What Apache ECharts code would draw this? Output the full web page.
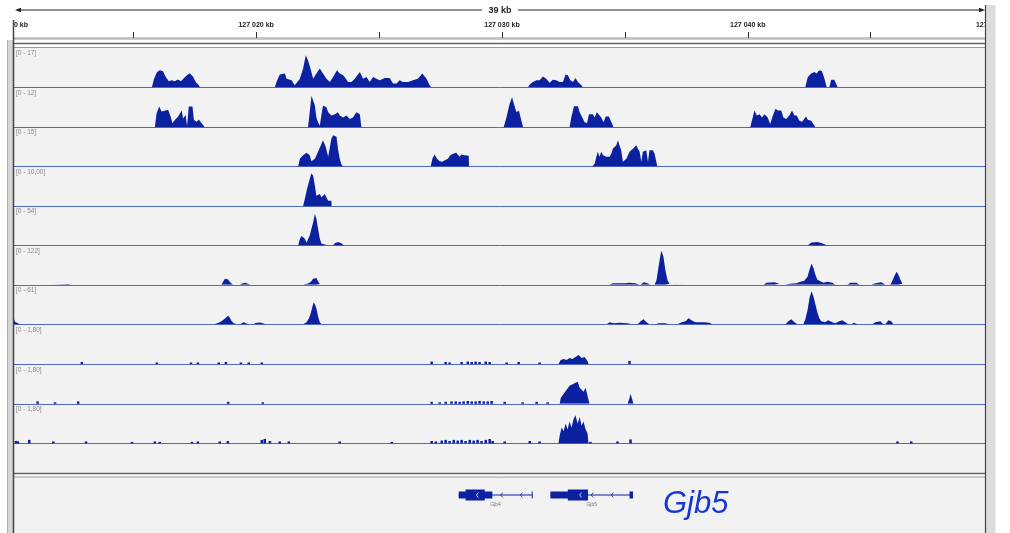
<!DOCTYPE html>
<html><head><meta charset="utf-8">
<script src="https://cdn.jsdelivr.net/npm/echarts@6/dist/echarts.min.js"></script>
<style>html,body{margin:0;padding:0;background:#fff}#c{width:1010px;height:533px}</style>
</head><body><div id="c"></div><script>
// positions are kb after 127 000 kb
const X_MIN = 10.15, X_MAX = 49.65;
const rulerTicks = [10,15,20,25,30,35,40,45,50];
const rulerLabels = [10,20,30,40,50];
const spanLabel = '39 kb';
const trackLabels = ['[0 - 17]','[0 - 12]','[0 - 15]','[0 - 10,00]','[0 - 54]','[0 - 122]','[0 - 61]','[0 - 1,80]','[0 - 1,80]','[0 - 1,80]'];
const trackMax = [17,12,15,10,54,122,61,1.8,1.8,1.8];

const t1 = [[10.15,0],[15.76,0],[15.84,3.4],[15.96,6.5],[16.08,7.3],[16.21,6.9],[16.33,4.3],[16.45,2.6],[16.57,3.0],[16.69,2.6],[16.82,3.4],[16.94,2.6],[17.06,3.9],[17.18,5.2],[17.30,6.0],[17.43,4.7],[17.55,2.2],[17.67,0.9],[17.71,0],
[20.76,0],[20.84,2.6],[20.96,5.5],[21.17,5.9],[21.24,3.7],[21.44,3.0],[21.57,0.9],[21.64,0.1],[21.78,3.7],[21.91,8.1],[22.02,13.8],[22.11,11.6],[22.21,8.1],[22.32,3.7],[22.45,5.9],[22.59,8.1],[22.72,5.9],[22.86,3.7],[23.00,2.3],[23.13,4.4],[23.29,7.3],[23.40,5.9],[23.54,5.2],[23.65,3.7],[23.74,2.3],[23.88,2.3],[24.01,3.7],[24.22,6.6],[24.35,3.7],[24.49,4.4],[24.62,2.3],[24.76,4.4],[24.89,3.7],[25.03,3.0],[25.23,4.0],[25.43,4.0],[25.57,1.6],[25.71,1.6],[25.84,3.0],[25.97,2.3],[26.18,2.3],[26.38,3.0],[26.58,3.7],[26.76,5.9],[26.93,3.7],[27.06,0.9],[27.13,0],
[31.06,0],[31.13,1.2],[31.26,2.3],[31.40,3.0],[31.53,3.0],[31.67,4.7],[31.80,3.7],[31.94,2.0],[32.07,3.3],[32.21,3.0],[32.34,2.3],[32.48,2.3],[32.59,5.5],[32.68,5.2],[32.78,3.0],[32.89,2.3],[32.99,4.0],[33.09,2.3],[33.23,0.9],[33.29,0],
[42.34,0],[42.44,4.4],[42.58,5.9],[42.71,6.6],[42.80,5.9],[42.91,7.3],[43.02,6.9],[43.12,3.7],[43.21,0],[43.32,0],[43.39,3.3],[43.52,3.3],[43.62,0.9],[43.66,0],[49.65,0]];

const t2 = [[10.15,0],[15.88,0],[15.95,4.3],[16.06,6.3],[16.15,4.8],[16.22,5.3],[16.32,5.1],[16.42,5.3],[16.52,3.3],[16.60,1.2],[16.69,2.2],[16.83,3.3],[16.97,5.1],[17.03,2.7],[17.13,3.7],[17.19,0.4],[17.26,6.3],[17.34,6.8],[17.41,6.3],[17.47,2.2],[17.58,1.7],[17.67,2.4],[17.78,1.2],[17.91,0],
[22.11,0],[22.18,4.6],[22.25,9.6],[22.32,10.1],[22.39,6.6],[22.45,3.0],[22.52,1.5],[22.59,0.5],[22.66,4.0],[22.72,6.6],[22.79,7.1],[22.86,6.1],[22.93,4.6],[23.00,5.1],[23.06,3.6],[23.13,3.0],[23.20,4.0],[23.27,3.6],[23.33,4.6],[23.40,3.6],[23.47,3.6],[23.54,3.0],[23.67,3.6],[23.74,3.0],[23.81,2.5],[23.94,3.0],[24.01,3.0],[24.08,4.6],[24.15,5.1],[24.22,4.0],[24.28,0],
[30.07,0],[30.18,3.0],[30.31,7.1],[30.41,9.1],[30.49,7.1],[30.59,4.6],[30.69,5.1],[30.79,2.0],[30.86,0],
[32.75,0],[32.82,3.0],[32.93,6.4],[33.09,6.4],[33.16,4.6],[33.27,3.0],[33.36,1.5],[33.46,1.3],[33.54,4.0],[33.70,4.0],[33.77,3.0],[33.86,4.6],[33.94,5.1],[34.04,3.0],[34.13,1.5],[34.22,3.3],[34.35,3.3],[34.45,1.5],[34.54,0],
[40.10,0],[40.20,3.0],[40.27,5.1],[40.37,3.6],[40.48,4.0],[40.58,3.0],[40.68,4.0],[40.81,3.0],[40.91,1.0],[41.02,3.6],[41.13,5.6],[41.22,5.1],[41.36,5.1],[41.45,3.0],[41.56,2.5],[41.69,3.6],[41.80,5.1],[41.90,3.6],[41.99,3.6],[42.10,2.0],[42.21,1.7],[42.37,3.3],[42.44,2.3],[42.58,2.0],[42.64,1.3],[42.75,0],[49.65,0]];

const t3 = [[10.15,0],[21.71,0],[21.78,3.0],[21.91,4.3],[22.05,5.3],[22.18,4.3],[22.25,2.0],[22.32,1.5],[22.39,3.0],[22.52,5.6],[22.66,8.7],[22.72,10.0],[22.83,7.5],[22.93,3.7],[23.00,4.3],[23.06,10.6],[23.13,11.9],[23.20,12.5],[23.27,11.3],[23.33,6.8],[23.40,3.0],[23.47,0.8],[23.54,0],
[27.10,0],[27.17,3.0],[27.26,4.6],[27.36,3.0],[27.47,2.0],[27.58,1.8],[27.67,2.4],[27.80,3.0],[27.90,4.3],[28.01,4.9],[28.14,5.3],[28.21,5.6],[28.28,3.7],[28.35,4.6],[28.41,4.9],[28.48,4.3],[28.55,4.1],[28.65,4.1],[28.66,0],
[33.67,0],[33.77,1.1],[33.84,3.7],[33.90,5.6],[33.97,3.7],[34.04,5.6],[34.11,4.3],[34.18,4.9],[34.24,3.7],[34.31,4.3],[34.38,3.7],[34.45,4.9],[34.51,6.8],[34.58,6.2],[34.65,8.1],[34.72,10.0],[34.78,8.1],[34.85,6.2],[34.92,1.8],[34.99,2.4],[35.06,3.0],[35.12,3.7],[35.19,5.6],[35.26,6.2],[35.33,6.8],[35.39,7.5],[35.46,8.1],[35.53,6.8],[35.60,5.6],[35.67,1.8],[35.73,5.6],[35.80,6.2],[35.87,6.2],[35.94,1.8],[36.00,6.2],[36.07,6.2],[36.14,6.2],[36.21,4.9],[36.28,4.9],[36.32,0],[49.65,0]];

const t4 = [[10.15,0],[21.91,0],[21.98,1.77],[22.07,4.30],[22.18,6.84],[22.25,8.28],[22.32,7.67],[22.39,5.14],[22.45,2.61],[22.52,2.20],[22.59,3.04],[22.66,2.20],[22.72,2.20],[22.79,3.04],[22.86,2.20],[22.93,1.34],[23.00,1.34],[23.06,1.34],[23.07,0],[49.65,0]];

const t5 = [[10.15,0],[21.71,0],[21.78,9.1],[21.85,12.7],[21.91,13.6],[21.98,9.1],[22.05,3.7],[22.11,4.5],[22.18,13.6],[22.25,22.8],[22.32,31.8],[22.39,43.2],[22.45,36.4],[22.52,22.8],[22.59,9.1],[22.66,2.3],[22.72,1.8],[22.86,1.0],[22.93,0],[23.13,0],[23.20,3.1],[23.33,4.5],[23.47,3.1],[23.56,0],[42.43,0],[42.59,4.1],[42.83,4.8],[42.99,3.4],[43.24,0],[49.65,0]];

const t6 = [[10.15,0],[11.75,0],[11.82,2],[12.29,2],[12.36,3],[12.45,3],[12.50,0],
[18.59,0],[18.66,10.2],[18.73,18.5],[18.80,21.6],[18.86,16.4],[18.93,8.3],[19.00,2.2],[19.06,0],
[19.34,0],[19.43,4],[19.54,6.2],[19.65,4],[19.77,0],
[21.91,0],[21.98,2.2],[22.11,4],[22.22,8.3],[22.32,18.5],[22.39,23.8],[22.45,20.7],[22.52,10.2],[22.59,2.2],[22.62,0],
[34.38,0],[34.50,4.6],[34.99,4.6],[35.19,6.2],[35.43,4.6],[35.60,0],
[35.64,0],[35.76,7.7],[35.92,4.6],[36.04,0],
[36.21,0],[36.29,15.4],[36.37,55.6],[36.45,92.6],[36.49,104.9],[36.57,86.4],[36.65,43.2],[36.74,12.3],[36.82,3.1],[36.90,0],
[36.94,0],[37.02,3.1],[37.43,3.1],[37.51,0],
[40.64,0],[40.76,6.2],[41.08,7.7],[41.29,3.1],[41.37,0],
[41.53,0],[41.69,3.1],[41.98,4.6],[42.14,9.3],[42.30,12.3],[42.43,24.7],[42.51,46.3],[42.59,64.8],[42.67,52.5],[42.75,30.9],[42.83,15.4],[42.91,9.3],[43.08,6.2],[43.24,9.3],[43.44,6.2],[43.56,0],
[44.05,0],[44.17,6.2],[44.42,6.2],[44.54,0],
[45.03,0],[45.19,4.6],[45.43,7.7],[45.60,0],
[45.80,0],[45.88,12.3],[45.97,27.8],[46.05,40.1],[46.13,30.9],[46.21,15.4],[46.29,3.1],[46.37,0],[49.65,0]];

const t7 = [[10.15,8.2],[10.19,4.1],[10.26,1.1],[10.39,0],
[18.28,0],[18.39,1.1],[18.52,3.1],[18.66,6.6],[18.77,10.3],[18.86,13.4],[18.93,10.3],[19.00,5.1],[19.09,1.5],[19.20,0.5],[19.27,0],
[19.34,0],[19.41,2.6],[19.50,3.1],[19.61,1.1],[19.72,0],
[19.88,0],[19.98,2.1],[20.15,2.6],[20.28,1.5],[20.38,0],
[21.91,0],[22.05,3.1],[22.15,9.3],[22.22,17.0],[22.29,27.3],[22.34,34.0],[22.39,30.9],[22.45,24.7],[22.52,11.9],[22.59,3.1],[22.66,0],
[34.26,0],[34.38,3.1],[34.54,1.5],[34.78,2.3],[35.11,1.5],[35.27,0],
[35.52,0],[35.64,4.6],[35.76,7.7],[35.88,3.1],[36.00,0],
[36.25,0],[36.37,1.5],[36.65,1.5],[36.78,0],
[37.14,0],[37.31,3.1],[37.47,4.6],[37.59,9.3],[37.71,6.2],[37.87,3.1],[38.20,3.1],[38.44,2.3],[38.56,0],
[41.53,0],[41.65,4.6],[41.77,7.7],[41.90,3.1],[42.02,0],
[42.26,0],[42.34,7.7],[42.43,21.6],[42.51,40.1],[42.59,50.9],[42.67,43.2],[42.75,30.9],[42.83,18.5],[42.91,9.3],[42.99,4.6],[43.15,3.1],[43.27,6.2],[43.44,3.1],[43.56,1.5],[43.72,4.6],[43.84,6.2],[43.97,3.1],[44.09,0],
[44.21,0],[44.33,2.3],[44.46,0],
[45.07,0],[45.19,3.1],[45.39,4.6],[45.52,0],
[45.60,0],[45.72,6.2],[45.84,4.6],[45.92,0],[49.65,0]];

// sparse tracks: dense clusters (area) and isolated small marks [pos, value] (bars)
const t8 = [[10.15,0],[32.30,0],[32.39,0.18],[32.51,0.23],[32.63,0.18],[32.75,0.27],[32.87,0.23],[32.99,0.32],[33.12,0.41],[33.24,0.27],[33.36,0.32],[33.48,0.14],[33.52,0],[49.65,0]];
const t8Marks = [[12.91,0.09],[15.96,0.07],[17.35,0.07],[17.63,0.07],[18.48,0.07],[18.77,0.09],[19.38,0.07],[19.70,0.07],[20.23,0.07],[27.14,0.11],[27.71,0.09],[27.87,0.07],[28.36,0.09],[28.61,0.11],[28.77,0.09],[28.93,0.11],[29.09,0.09],[29.34,0.11],[29.50,0.09],[30.19,0.07],[30.68,0.09],[31.53,0.07],[35.19,0.14]];
const t9 = [[10.15,0],[32.35,0],[32.39,0.27],[32.51,0.46],[32.63,0.64],[32.75,0.82],[32.83,0.73],[32.91,0.91],[32.99,0.82],[33.08,1.0],[33.16,0.73],[33.24,0.82],[33.32,0.55],[33.40,0.73],[33.48,0.37],[33.56,0],[35.11,0],[35.19,0.27],[35.23,0.46],[35.27,0.37],[35.35,0],[49.65,0]];
const t9Marks = [[11.11,0.11],[11.82,0.07],[12.76,0.11],[18.86,0.09],[20.27,0.07],[27.14,0.09],[27.47,0.07],[27.71,0.09],[27.95,0.11],[28.12,0.11],[28.28,0.09],[28.44,0.11],[28.61,0.13],[28.77,0.11],[28.93,0.11],[29.09,0.13],[29.26,0.11],[29.42,0.11],[29.58,0.13],[30.11,0.09],[30.84,0.07],[31.41,0.09],[31.86,0.07]];
const t10 = [[10.15,0],[32.30,0],[32.35,0.37],[32.43,0.73],[32.51,0.55],[32.59,0.91],[32.67,0.64],[32.75,1.0],[32.83,0.73],[32.91,1.1],[32.99,1.28],[33.08,0.91],[33.16,1.19],[33.24,0.82],[33.32,1.0],[33.40,0.64],[33.48,0.46],[33.52,0],[49.65,0]];
const t10Marks = [[10.23,0.11],[10.31,0.09],[10.77,0.16],[11.75,0.09],[13.08,0.09],[14.95,0.07],[15.88,0.09],[16.08,0.07],[17.39,0.07],[17.63,0.09],[18.52,0.09],[18.85,0.11],[20.23,0.16],[20.35,0.2],[20.56,0.11],[20.96,0.09],[21.33,0.09],[23.40,0.09],[25.52,0.07],[27.14,0.11],[27.31,0.09],[27.55,0.13],[27.71,0.16],[27.87,0.11],[28.04,0.16],[28.20,0.13],[28.36,0.16],[28.52,0.11],[28.69,0.16],[28.85,0.13],[29.01,0.16],[29.17,0.11],[29.34,0.16],[29.50,0.2],[29.62,0.11],[30.11,0.09],[31.13,0.11],[31.53,0.09],[33.60,0.07],[34.70,0.09],[35.23,0.18],[46.09,0.09],[46.65,0.09]];

// genes
const geneNames = ['Gjb4','Gjb5'];
const geneStart = [28.24, 31.97];
const geneEnd = [31.24, 35.33];
const geneUtr = [[[28.24,29.61],[31.21,31.24]], [[31.97,33.50],[35.19,35.33]]];
const geneCds = [[28.52,29.30],[32.68,33.50]];
const geneChevrons = [[28.96,29.95,30.75],[33.16,33.63,34.45]];
const bigGeneLabel = 'Gjb5';

// ---------- layout ----------
const FILL = '#0c21a0';
const baselines = [87.3,127.3,166.6,206,245.4,284.8,324.3,364,403.8,443.4];
const TRACK_H = 39.5;
const LEFT = 14, WIDTH = 971;

// break the drawn area wherever the coverage stays at zero
function breakZeros(d){
  const out = [];
  for (let i=0;i<d.length;i++){
    out.push(d[i]);
    if (i<d.length-1 && d[i][1]===0 && d[i+1][1]===0) out.push([(d[i][0]+d[i+1][0])/2, null]);
  }
  return out;
}
const trackData = [t1,t2,t3,t4,t5,t6,t7,t8,t9,t10].map(breakZeros);
const trackMarks = [null,null,null,null,null,null,null,t8Marks,t9Marks,t10Marks];

const grids = [], xAxes = [], yAxes = [], series = [];
// ruler grid (0)
const pxPerKb = WIDTH/(X_MAX-X_MIN);
grids.push({left:0, width:1010, top:0, height:38, outerBoundsMode:'none'});
xAxes.push({type:'value', gridIndex:0, min:X_MIN-LEFT/pxPerKb, max:X_MAX+(1010-LEFT-WIDTH)/pxPerKb, position:'bottom',
  axisLine:{show:true, lineStyle:{color:'#bdbdbd', width:2.5}},
  axisTick:{show:true, inside:true, length:6, lineStyle:{color:'#333', width:1}, customValues:rulerTicks},
  axisLabel:{show:true, inside:true, margin:9, customValues:rulerLabels, color:'#222', fontSize:7, fontWeight:'bold', fontFamily:'Liberation Sans',
    formatter: v => '127 0' + String(Math.round(v)).padStart(2,'0') + ' kb'},
  splitLine:{show:false}});
yAxes.push({type:'value', gridIndex:0, show:false, min:0, max:1});

trackData.forEach((d,i)=>{
  const gi = i+1;
  grids.push({left:LEFT, width:WIDTH, top:baselines[i]-TRACK_H, height:TRACK_H, outerBoundsMode:'none'});
  xAxes.push({type:'value', gridIndex:gi, min:X_MIN, max:X_MAX, position:'bottom',
    axisLine:{show:true, onZero:false, lineStyle:{color:'#5068c8', width:1}},
    axisTick:{show:false}, axisLabel:{show:false}, splitLine:{show:false}});
  yAxes.push({type:'value', gridIndex:gi, min:0, max:trackMax[i], show:false, splitLine:{show:false}});
  series.push({type:'line', xAxisIndex:gi, yAxisIndex:gi, data:d, symbol:'none', silent:true, z:3, connectNulls:false,
    lineStyle:{width:0, opacity:0, color:FILL}, areaStyle:{color:FILL, opacity:1}});
  if (trackMarks[i]) {
    series.push({type:'bar', xAxisIndex:gi, yAxisIndex:gi, data:trackMarks[i], barWidth:2.5, silent:true, z:3,
      itemStyle:{color:FILL}});
  }
});

// gene grid
const GENE_TOP = 477, GENE_H = 56, GENE_ROW = (533-495)/56;
const gg = grids.length;
grids.push({left:LEFT, width:WIDTH, top:GENE_TOP, height:GENE_H, outerBoundsMode:'none'});
xAxes.push({type:'value', gridIndex:gg, min:X_MIN, max:X_MAX, show:false});
yAxes.push({type:'value', gridIndex:gg, min:0, max:1, show:false});
series.push({type:'custom', xAxisIndex:gg, yAxisIndex:gg, silent:true, z:3,
  data: geneNames.map((n,i)=>[geneStart[i], geneEnd[i], i]),
  encode:{x:[0,1]},
  renderItem:(params, api)=>{
    const i = api.value(2);
    const cx = v => api.coord([v, GENE_ROW])[0];
    const y = api.coord([X_MIN, GENE_ROW])[1];
    const ch = [];
    ch.push({type:'line', shape:{x1:cx(geneStart[i]), y1:y, x2:cx(geneEnd[i]), y2:y}, style:{stroke:FILL, lineWidth:1}});
    geneUtr[i].forEach(([a,b])=>ch.push({type:'rect', shape:{x:cx(a), y:y-3.5, width:Math.max(1,cx(b)-cx(a)), height:7}, style:{fill:FILL}}));
    const [ca,cb] = geneCds[i];
    ch.push({type:'rect', shape:{x:cx(ca), y:y-5.5, width:cx(cb)-cx(ca), height:11}, style:{fill:FILL}});
    geneChevrons[i].forEach(p=>{
      const x = cx(p), inside = p>=ca && p<=cb;
      ch.push({type:'polyline', shape:{points:[[x+2,y-2.5],[x,y],[x+2,y+2.5]]}, style:{stroke: inside?'#fff':FILL, lineWidth:0.8, fill:null}});
    });
    ch.push({type:'text', style:{text:geneNames[i], x:(cx(geneStart[i])+cx(geneEnd[i]))/2, y:y+9.5, align:'center', verticalAlign:'middle', fontSize:5, fill:'#777', fontFamily:'Liberation Sans'}});
    return {type:'group', children:ch};
  }});

const graphics = [
  // panel backgrounds
  {type:'rect', z:-10, shape:{x:14, y:47.5, width:971, height:425.5}, style:{fill:'#f2f2f2'}},
  {type:'rect', z:-10, shape:{x:14, y:477, width:971, height:56}, style:{fill:'#f2f2f2'}},
  // ruler span line with arrows
  {type:'line', z:50, shape:{x1:17, y1:10, x2:482, y2:10}, style:{stroke:'#222', lineWidth:1}},
  {type:'line', z:50, shape:{x1:518, y1:10, x2:983, y2:10}, style:{stroke:'#222', lineWidth:1}},
  {type:'polygon', z:50, shape:{points:[[15,10],[21,7.8],[21,12.2]]}, style:{fill:'#222'}},
  {type:'polygon', z:50, shape:{points:[[985,10],[979,7.8],[979,12.2]]}, style:{fill:'#222'}},
  {type:'text', z:50, style:{text:spanLabel, x:500, y:11, align:'center', verticalAlign:'middle', fontSize:9, fontWeight:'bold', fontFamily:'Liberation Sans', fill:'#222'}},
  // separators
  {type:'line', z:50, shape:{x1:8, y1:43.5, x2:995, y2:43.5}, style:{stroke:'#666', lineWidth:1.5}},
  {type:'line', z:50, shape:{x1:8, y1:47.5, x2:995, y2:47.5}, style:{stroke:'#999', lineWidth:1}},
  {type:'line', z:50, shape:{x1:8, y1:473.5, x2:995, y2:473.5}, style:{stroke:'#666', lineWidth:1.5}},
  {type:'line', z:50, shape:{x1:8, y1:477, x2:995, y2:477}, style:{stroke:'#999', lineWidth:1}},
  // left border / cover
  {type:'rect', z:100, shape:{x:0, y:0, width:13, height:533}, style:{fill:'#fff'}},
  {type:'rect', z:101, shape:{x:7.5, y:40, width:5.5, height:493}, style:{fill:'#d6d6d6'}},
  {type:'line', z:102, shape:{x1:7.5, y1:40, x2:7.5, y2:533}, style:{stroke:'#aaa', lineWidth:1}},
  {type:'line', z:102, shape:{x1:13.5, y1:20, x2:13.5, y2:533}, style:{stroke:'#444', lineWidth:1.5}},
  // right border / cover
  {type:'rect', z:100, shape:{x:986, y:0, width:24, height:533}, style:{fill:'#fff'}},
  {type:'rect', z:101, shape:{x:986, y:5, width:9.5, height:528}, style:{fill:'#dcdcdc'}},
  {type:'line', z:102, shape:{x1:985.5, y1:5, x2:985.5, y2:533}, style:{stroke:'#444', lineWidth:1.2}},
  // big gene label
  {type:'text', z:60, style:{text:bigGeneLabel, x:663, y:504, align:'left', verticalAlign:'middle', fontSize:31, fontStyle:'italic', fontFamily:'Liberation Sans', fill:'#1736d6'}}
];
trackLabels.forEach((t,i)=>{
  graphics.push({type:'text', z:60, style:{text:t, x:16, y:baselines[i]-TRACK_H+5.5, align:'left', verticalAlign:'middle', fontSize:6.5, fontFamily:'Liberation Sans', fill:'#8a8a8a'}});
});

const chart = echarts.init(document.getElementById('c'), null, {renderer:'canvas'});
chart.setOption({
  animation:false,
  backgroundColor:'#ffffff',
  grid:grids, xAxis:xAxes, yAxis:yAxes, series:series,
  graphic:{elements:graphics}
});
</script></body></html>
